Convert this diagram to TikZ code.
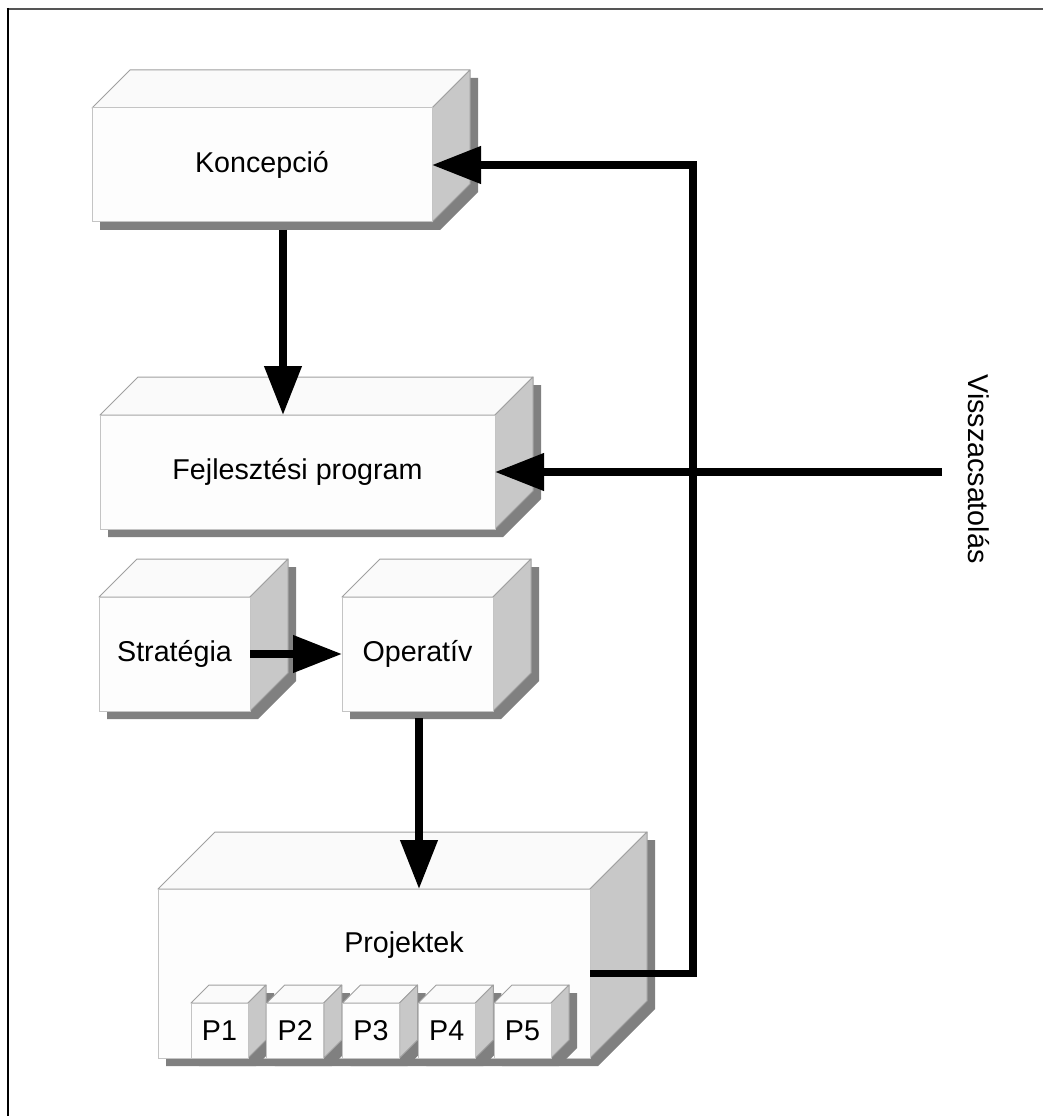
\documentclass[tikz,border=0pt]{standalone}
\usepackage{fontspec}
\setmainfont{Liberation Sans}
\usetikzlibrary{arrows.meta}

\definecolor{facefront}{HTML}{FDFDFD}
\definecolor{facetop}{HTML}{FAFAFA}
\definecolor{faceside}{HTML}{C8C8C8}
\definecolor{shadowgray}{HTML}{808080}
\definecolor{edgelight}{HTML}{C4C4C4}
\definecolor{edgedark}{HTML}{A0A0A0}
\definecolor{framegray}{HTML}{555555}

\tikzset{
  frontface/.style={fill=facefront, draw=edgelight, line width=0.75pt,
    inner sep=0pt, outer sep=0pt, rectangle},
  topface/.style={fill=facetop, draw=edgedark, line width=0.75pt, line join=round},
  sideface/.style={fill=faceside, draw=edgedark, line width=0.75pt, line join=round},
  lbl/.style={font=\fontsize{21.5}{26}\selectfont, text=black},
  flow/.style={line width=5.6pt, line join=miter, draw=black,
    -{Triangle[length=36.75pt, width=27pt]}},
}

% A box with a lit front, a top face, a shaded side face and a drop shadow.
% #1 name, #2 left, #3 top, #4 right, #5 bottom (front face), #6 depth, #7 text
\newcommand\threedbox[7]{%
  \fill[shadowgray] ({#2+8},{#3+8}) -- ({#2+#6+8},{#3-#6+8}) -- ({#4+#6+8},{#3-#6+8})
    -- ({#4+#6+8},{#5-#6+8}) -- ({#4+8},{#5+8}) -- ({#2+8},{#5+8}) -- cycle;
  \path[topface] (#2,#3) -- ({#2+#6},{#3-#6}) -- ({#4+#6},{#3-#6}) -- (#4,#3) -- cycle;
  \path[sideface] (#4,#3) -- ({#4+#6},{#3-#6}) -- ({#4+#6},{#5-#6}) -- (#4,#5) -- cycle;
  \node[frontface, lbl, minimum width={(#4-#2)*0.75pt}, minimum height={(#5-#3)*0.75pt}]
    (#1) at ({(#2+#4)/2},{(#3+#5)/2}) {#7};
}

\begin{document}
\begin{tikzpicture}[x=0.75pt, y=-0.75pt]
  \useasboundingbox (0,0) rectangle (1043,1116);
  \fill[white] (0,0) rectangle (1043,1116);

  % page frame
  \draw[framegray, line width=1.5pt] (6.5,9) -- (1043,9);
  \draw[black, line width=1.5pt] (7.5,8) -- (7.5,1116);

  % boxes
  \threedbox{kon}{92}{108}{432}{222}{38}{Koncepció}
  \threedbox{fej}{100}{415}{495}{529}{38}{Fejlesztési program}
  \threedbox{str}{99}{597}{250}{711}{38}{Stratégia}
  \threedbox{ope}{342}{597}{493}{711}{38}{Operatív}
  \threedbox{pro}{158}{889}{590}{1058}{57}{}
  \node[lbl, anchor=base] (prolbl) at (404,952) {Projektek};

  \foreach \i in {1,...,5}{
    \pgfmathsetmacro\pl{191+75.75*(\i-1)}
    \pgfmathsetmacro\pr{\pl+57}
    \threedbox{p\i}{\pl}{1003}{\pr}{1058}{18}{P\i}
  }

  % connectors
  \coordinate (konout) at (283,230);
  \draw[flow] (konout) -- (konout |- fej.north);

  \draw[flow] (str.east) -- (ope.west);

  \coordinate (opeout) at (419,718);
  \draw[flow] (opeout) -- (opeout |- pro.north);

  \coordinate (fbx) at (693,0);
  \draw[flow] (pro.east) -- (fbx |- pro.east) -- (fbx |- kon.east) -- (kon.east);

  \coordinate (vissin) at (942,472);
  \draw[flow] (vissin) -- (vissin -| fej.east);

  \node[lbl, rotate=-90, anchor=base] (vissza) at (968,469) {Visszacsatolás};
\end{tikzpicture}
\end{document}
